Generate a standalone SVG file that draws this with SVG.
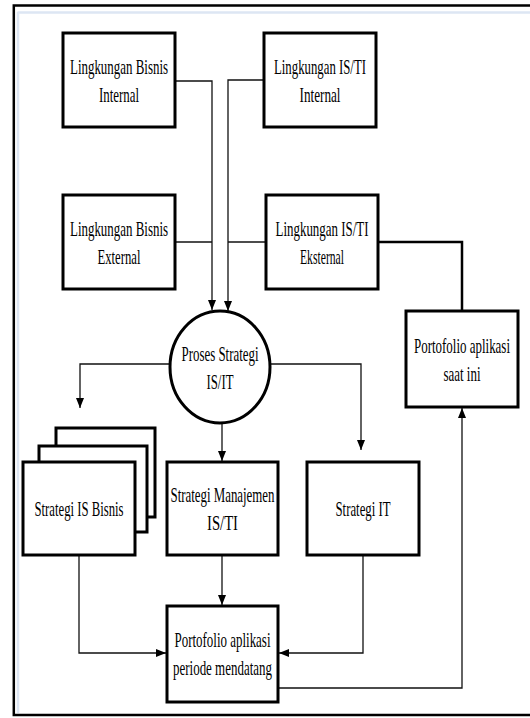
<svg xmlns="http://www.w3.org/2000/svg" width="530" height="718" viewBox="0 0 530 718">
<style>
.box{fill:#fff;stroke:#000;stroke-width:3}
.t{font-family:"Liberation Serif","Times New Roman",serif;font-size:22px;fill:#000;text-anchor:middle}
.c{fill:none;stroke:#111;stroke-width:1.3}
.ca{fill:none;stroke:#111;stroke-width:1.3;marker-end:url(#ah)}
</style>
<defs>
<marker id="ah" markerUnits="userSpaceOnUse" markerWidth="10" markerHeight="8" refX="10" refY="4" orient="auto">
<path d="M0,0 L10,4 L0,8 z" fill="#000"/>
</marker>
</defs>
<rect x="0" y="0" width="530" height="718" fill="#fff"/>
<g id="frame">
<line x1="17.5" y1="12.5" x2="530" y2="12.5" stroke="#dde6f3" stroke-width="2.5"/>
<line x1="18" y1="12" x2="18" y2="713" stroke="#dde6f3" stroke-width="2.5"/>
<path d="M530,5.5 H13.8 V715 H530" fill="none" stroke="#000" stroke-width="2.5"/>
</g>
<g id="connectors">
<path class="ca" d="M175,81 H212 V310"/>
<path class="ca" d="M264,80 H228 V311"/>
<path class="c" d="M175,242 H212"/>
<path class="c" d="M266,242 H228"/>
<path fill="none" stroke="#000" stroke-width="2.5" d="M378,242 H462 V311"/>
<path class="ca" d="M170,364 H80 V408"/>
<path class="ca" d="M270,364 H361 V450"/>
<path class="ca" d="M222,423 V461"/>
<path class="ca" d="M79,555 V653 H166"/>
<path class="ca" d="M222,555 V605"/>
<path class="ca" d="M363,555 V653 H279"/>
<path class="ca" d="M279,688 H462 V408"/>
</g>
<g id="lingkungan-bisnis-internal">
<rect class="box" x="63" y="33" width="112" height="94"/>
<text class="t" transform="scale(0.6 1)" x="198.33" y="74" textLength="163.33" lengthAdjust="spacingAndGlyphs">Lingkungan Bisnis</text>
<text class="t" transform="scale(0.6 1)" x="198.33" y="102" textLength="66.67" lengthAdjust="spacingAndGlyphs">Internal</text>
</g>
<g id="lingkungan-isti-internal">
<rect class="box" x="264" y="33" width="112" height="94"/>
<text class="t" transform="scale(0.6 1)" x="533.33" y="74" textLength="153.33" lengthAdjust="spacingAndGlyphs">Lingkungan IS/TI</text>
<text class="t" transform="scale(0.6 1)" x="533.33" y="102" textLength="68.33" lengthAdjust="spacingAndGlyphs">Internal</text>
</g>
<g id="lingkungan-bisnis-external">
<rect class="box" x="63" y="195" width="112" height="94"/>
<text class="t" transform="scale(0.6 1)" x="198.33" y="236" textLength="163.33" lengthAdjust="spacingAndGlyphs">Lingkungan Bisnis</text>
<text class="t" transform="scale(0.6 1)" x="198.33" y="264" textLength="71.67" lengthAdjust="spacingAndGlyphs">External</text>
</g>
<g id="lingkungan-isti-eksternal">
<rect class="box" x="266" y="195" width="112" height="94"/>
<text class="t" transform="scale(0.6 1)" x="536.67" y="236" textLength="155" lengthAdjust="spacingAndGlyphs">Lingkungan IS/TI</text>
<text class="t" transform="scale(0.6 1)" x="536.67" y="264" textLength="73.33" lengthAdjust="spacingAndGlyphs">Eksternal</text>
</g>
<g id="portofolio-saat-ini">
<rect class="box" x="406" y="311" width="112" height="96"/>
<text class="t" transform="scale(0.6 1)" x="770" y="353" textLength="160" lengthAdjust="spacingAndGlyphs">Portofolio aplikasi</text>
<text class="t" transform="scale(0.6 1)" x="770" y="381" textLength="61.67" lengthAdjust="spacingAndGlyphs">saat ini</text>
</g>
<g id="proses-strategi">
<ellipse cx="220" cy="367" rx="50" ry="56" fill="#fff" stroke="#000" stroke-width="3"/>
<text class="t" transform="scale(0.6 1)" x="366.67" y="361" textLength="128.33" lengthAdjust="spacingAndGlyphs">Proses Strategi</text>
<text class="t" transform="scale(0.6 1)" x="366.67" y="389" textLength="45" lengthAdjust="spacingAndGlyphs">IS/IT</text>
</g>
<g id="strategi-is-bisnis">
<rect class="box" x="56" y="428" width="99" height="89"/>
<rect class="box" x="39" y="446" width="108" height="86"/>
<rect class="box" x="23" y="462" width="112" height="93"/>
<text class="t" transform="scale(0.6 1)" x="131.67" y="516" textLength="148.33" lengthAdjust="spacingAndGlyphs">Strategi IS Bisnis</text>
</g>
<g id="strategi-manajemen">
<rect class="box" x="167" y="462" width="111" height="93"/>
<text class="t" transform="scale(0.6 1)" x="370.83" y="502" textLength="173.33" lengthAdjust="spacingAndGlyphs">Strategi Manajemen</text>
<text class="t" transform="scale(0.6 1)" x="370.83" y="530" textLength="51.67" lengthAdjust="spacingAndGlyphs">IS/TI</text>
</g>
<g id="strategi-it">
<rect class="box" x="307" y="462" width="112" height="93"/>
<text class="t" transform="scale(0.6 1)" x="605" y="516" textLength="91.67" lengthAdjust="spacingAndGlyphs">Strategi IT</text>
</g>
<g id="portofolio-mendatang">
<rect class="box" x="167" y="606" width="111" height="96"/>
<text class="t" transform="scale(0.6 1)" x="370.83" y="647" textLength="160" lengthAdjust="spacingAndGlyphs">Portofolio aplikasi</text>
<text class="t" transform="scale(0.6 1)" x="370.83" y="675" textLength="165" lengthAdjust="spacingAndGlyphs">periode mendatang</text>
</g>
</svg>
